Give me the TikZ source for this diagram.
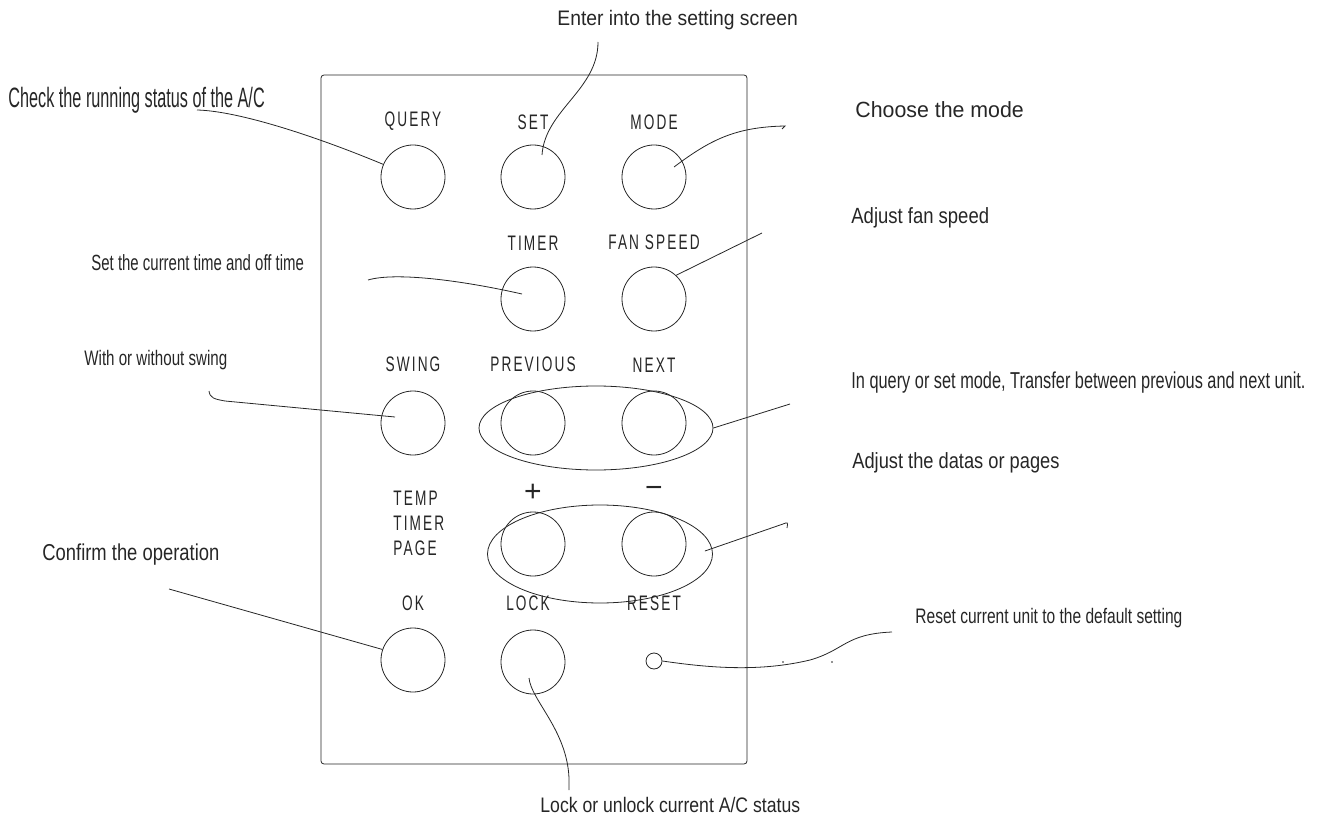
\documentclass[tikz,border=0pt]{standalone}
\usepackage{fontspec}
\usepackage{graphicx}
\setmainfont{Liberation Sans}
\newfontfamily\keyfont[FakeStretch=0.65,LetterSpace=10]{Liberation Sans}
\usetikzlibrary{calc,shapes.geometric}

% squeeze a note sideways
\newcommand{\narrow}[2]{\scalebox{#1}[1]{#2}}

\tikzset{
    key/.style={draw, circle, minimum size=64pt, inner sep=0pt},
    keytext/.style={font=\keyfont\fontsize{21}{25}\selectfont, inner sep=0pt},
    signtext/.style={font=\fontsize{30}{30}\selectfont, inner sep=0pt},
    note/.style={inner sep=0pt, anchor=west},
    group/.style={draw, ellipse, inner sep=0pt},
    lead/.style={line width=0.8pt}
}

\begin{document}
\begin{tikzpicture}[x=1pt,y=-1pt,line width=0.8pt,black!85]
    \useasboundingbox (0,0) rectangle (1333,818);

    % panel
    \draw[rounded corners=3pt] (321,75) rectangle (747,764);

    % keys
    \node[key, label={[keytext,label distance=14pt]above:QUERY}] (query) at (413,177) {};
    \node[key, label={[keytext,label distance=14pt]above:SET}] (set) at (533,177) {};
    \node[key, label={[keytext,label distance=14pt]above:MODE}] (mode) at (654,177) {};
    \node[key, label={[keytext,label distance=16pt]above:TIMER}] (timer) at (533,299) {};
    \node[key, label={[keytext,label distance=16pt]above:FAN SPEED}] (fan) at (654,299) {};
    \node[key, label={[keytext,label distance=18pt]above:SWING}] (swing) at (413,423) {};
    \node[key, label={[keytext,label distance=18pt]above:PREVIOUS}] (prev) at (533,423) {};
    \node[key, label={[keytext,label distance=18pt]above:NEXT}] (next) at (654,423) {};
    \node[key] (plus) at (533,544) {};
    \node[key] (minus) at (654,544) {};
    \node[key, label={[keytext,label distance=16pt]above:OK}] (ok) at (413,660) {};
    \node[key, label={[keytext,label distance=18pt,xshift=-5pt]above:LOCK}] (lock) at (533,662) {};
    \node[draw, circle, minimum size=16pt, inner sep=0pt,
          label={[keytext,label distance=41pt]above:RESET}] (reset) at (654,661) {};

    \node[keytext, anchor=west, align=left] (adj) at (393,523) {TEMP\\TIMER\\PAGE};
    \node[signtext] (plustext) at (533,493) {+};
    \node[signtext] (minustext) at (654,492) {−};

    % grouped keys
    \node[group, minimum width=234pt, minimum height=84pt] (pn) at (596,428) {};
    \node[group, minimum width=225pt, minimum height=98pt] (pm) at (600,554) {};

    % notes
    \node[note, font=\fontsize{28}{30}\selectfont] (chk) at (8,100) {\narrow{0.58}{Check the running status of the A/C}};
    \node[note, font=\fontsize{21}{24}\selectfont] (ent) at (557,20) {\narrow{0.92}{Enter into the setting screen}};
    \node[note, font=\fontsize{22}{24}\selectfont] (cho) at (855,110) {\narrow{0.97}{Choose the mode}};
    \node[note, font=\fontsize{22}{24}\selectfont] (fsp) at (851,218) {\narrow{0.84}{Adjust fan speed}};
    \node[note, font=\fontsize{22}{24}\selectfont] (tim) at (91,263) {\narrow{0.68}{Set the current time and off time}};
    \node[note, font=\fontsize{21}{24}\selectfont] (swg) at (84,360) {\narrow{0.72}{With or without swing}};
    \node[note, font=\fontsize{23}{25}\selectfont] (trf) at (851,383) {\narrow{0.71}{In query or set mode, Transfer between previous and next unit.}};
    \node[note, font=\fontsize{22}{24}\selectfont] (dat) at (852,463) {\narrow{0.83}{Adjust the datas or pages}};
    \node[note, font=\fontsize{23}{25}\selectfont] (cnf) at (42,555) {\narrow{0.80}{Confirm the operation}};
    \node[note, font=\fontsize{21}{24}\selectfont] (rst) at (915,618) {\narrow{0.74}{Reset current unit to the default setting}};
    \node[note, font=\fontsize{21}{24}\selectfont] (lck) at (540,805) {\narrow{0.84}{Lock or unlock current A/C status}};

    % free ends of the leaders
    \coordinate (chkend) at (197,110);
    \coordinate (entend) at (598,42);
    \coordinate (choend) at (785,126);
    \coordinate (fspend) at (762,233);
    \coordinate (timend) at (368,280);
    \coordinate (swgend) at (209,391);
    \coordinate (trfend) at (790,404);
    \coordinate (datend) at (783,524);
    \coordinate (cnfend) at (169,589);
    \coordinate (rstend) at (892,632);
    \coordinate (lckend) at (569,790);

    % leaders
    \draw[lead] (chkend) .. controls (240,111) and (320,138) .. (query.157);
    \draw[lead] (entend) .. controls (598,90) and (545,110) .. ($(set)+(9,-22)$);
    \draw[lead] ($(mode)+(20,-10)$) .. controls (710,140) and (735,127) .. (choend) -- ++(-3,3);
    \draw[lead] (fan.47) -- (fspend);
    \draw[lead] (timend) .. controls (395,272) and (460,280) .. ($(timer)+(-11,-5)$);
    \draw[lead] (swgend) .. controls (210,398) and (214,399) .. (225,401) -- ($(swing)+(-18,-6)$);
    \draw[lead] (pn.east) -- (trfend);
    \draw[lead] ($(pm.east)+(-8,-3)$) -- (datend) .. controls (788,522) .. (787,528);
    \draw[lead] (cnfend) -- (ok.161);
    \draw[lead] (reset.east) .. controls (710,668) and (760,672) .. (810,660)
        .. controls (845,650) and (845,634) .. (rstend);
    \draw[lead] ($(lock)+(-4,16)$) .. controls (531,700) and (567,730) .. (569,778) -- (lckend);

    % specks
    \fill (783,662) circle (0.8pt);
    \fill (832,662) circle (0.8pt);
\end{tikzpicture}
\end{document}
